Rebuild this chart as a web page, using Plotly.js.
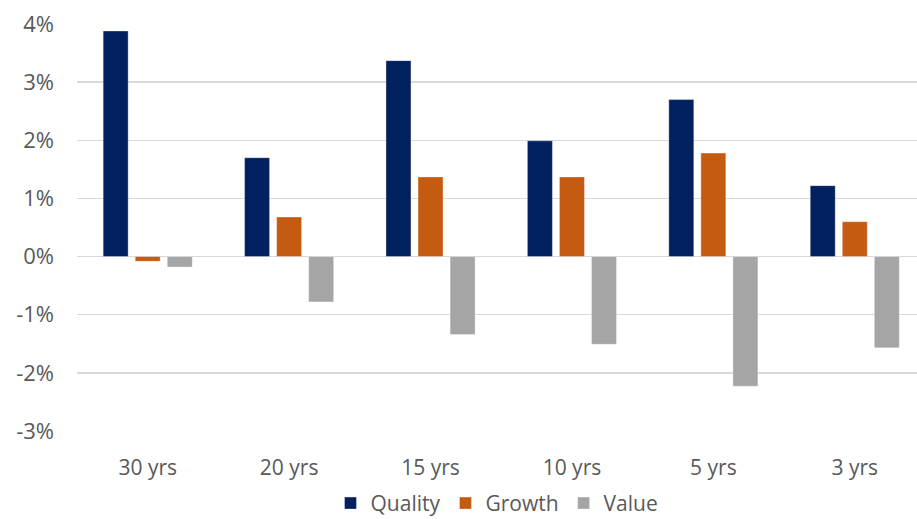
<!DOCTYPE html>
<html>
<head>
<meta charset="utf-8">
<script src="https://cdn.plot.ly/plotly-3.0.1.min.js"></script>
<style>html,body{margin:0;padding:0;background:#fff;}#chart{width:917px;height:519px;}</style>
</head>
<body>
<div id="chart"></div>
<script>
const categories = ["30 yrs", "20 yrs", "15 yrs", "10 yrs", "5 yrs", "3 yrs"];
const quality = [3.88, 1.70, 3.37, 1.99, 2.70, 1.22];
const growth = [-0.08, 0.68, 1.37, 1.37, 1.78, 0.60];
const value = [-0.18, -0.78, -1.34, -1.51, -2.23, -1.57];
const yTickVals = [-3, -2, -1, 0, 1, 2, 3, 4];
const yTickText = ["-3%", "-2%", "-1%", "0%", "1%", "2%", "3%", "4%"];

const mk = (name, y, color) => ({
  type: "bar", name: name, x: categories, y: y,
  marker: {color: color, line: {color: "rgba(255,255,255,0.6)", width: 0.6}},
  hoverinfo: "x+y+name"
});

const data = [
  mk("Quality", quality, "#002060"),
  mk("Growth", growth, "#C55A11"),
  mk("Value", value, "#A5A5A5")
];

const layout = {
  width: 917, height: 519,
  margin: {l: 77, r: 0, t: 24, b: 88, autoexpand: false},
  paper_bgcolor: "#ffffff", plot_bgcolor: "#ffffff",
  font: {family: "Open Sans, Liberation Sans, sans-serif", color: "#595959", size: 18},
  barmode: "group", bargap: 0.32, bargroupgap: 0.22,
  showlegend: true,
  legend: {orientation: "h", x: 0.5, xanchor: "center", yref: "container", y: 0.03, yanchor: "middle",
           font: {size: 21, color: "#595959"}, itemwidth: 30, tracegroupgap: 0,
           traceorder: "normal"},
  xaxis: {type: "category", range: [-0.5, 5.44], showgrid: false, zeroline: false, automargin: false,
          showline: false, ticks: "", tickfont: {size: 21, color: "#595959"}, ticklabelstandoff: 22},
  yaxis: {range: [-3, 4], tickvals: yTickVals, ticktext: yTickText, showgrid: true, automargin: false,
          gridcolor: "#d9d9d9", gridwidth: 1.3, zeroline: true, zerolinecolor: "#d9d9d9", zerolinewidth: 1.3,
          showline: false, ticks: "", tickfont: {size: 22, color: "#595959"}, ticklabelstandoff: 22}
};

Plotly.newPlot("chart", data, layout, {displayModeBar: false, staticPlot: true});
</script>
</body>
</html>
